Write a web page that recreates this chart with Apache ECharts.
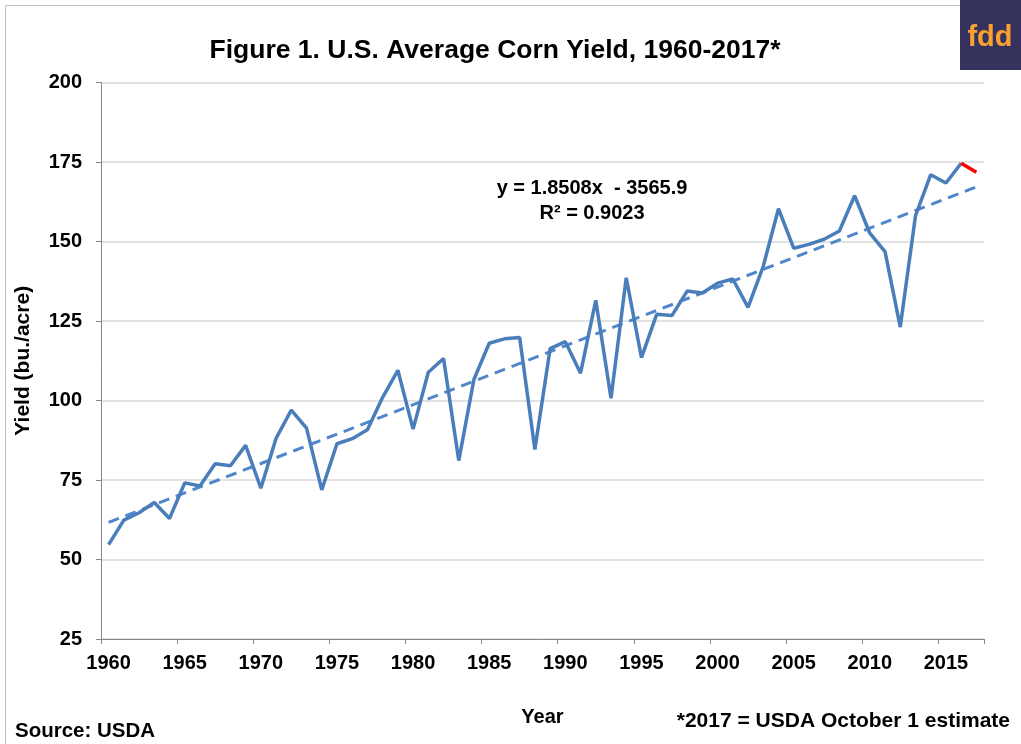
<!DOCTYPE html>
<html lang="en">
<head>
  <meta charset="UTF-8">
  <script src="https://cdn.jsdelivr.net/npm/echarts@6/dist/echarts.min.js"></script>
  <style>
    body { margin: 0; background: #fff; }
    #main { width: 1021px; height: 744px; }
  </style>
  <title>Corn Yield</title>
</head>
<body>
  <div id="main"></div>
  <script>
    // years and USDA average corn yield (bu./acre), 2017 = October estimate
    const years = [];
    for (let y = 1960; y <= 2017; y++) years.push(String(y));
    const yields = [
      54.7, 62.4, 64.7, 67.9, 62.9, 74.1, 73.1, 80.1, 79.5, 85.9,
      72.4, 88.1, 97.0, 91.3, 71.9, 86.4, 88.0, 90.8, 101.0, 109.5,
      91.0, 108.9, 113.2, 81.1, 106.7, 118.0, 119.4, 119.8, 84.6, 116.3,
      118.5, 108.6, 131.5, 100.7, 138.6, 113.5, 127.1, 126.7, 134.4, 133.8,
      136.9, 138.2, 129.3, 142.2, 160.3, 147.9, 149.1, 150.7, 153.3, 164.4,
      152.6, 146.8, 123.1, 158.1, 171.0, 168.4, 174.6
    ];
    const estimate2017 = 171.8;
    // linear trend shown on the chart
    const slope = 1.8508;
    const intercept = -3565.9;

    const last = years.length - 1;
    const actual = yields.concat([null]);
    const estimate = years.map((y, i) => i === last - 1 ? yields[last - 1] : (i === last ? estimate2017 : null));
    const trend = years.map((y, i) => (i === 0 || i === last) ? +(slope * Number(y) + intercept).toFixed(2) : null);

    const font = 'Liberation Sans, Arial, sans-serif';
    var myChart = echarts.init(document.getElementById('main'));
    var option = {
      animation: false,
      backgroundColor: '#fff',
      title: {
        text: 'Figure 1. U.S. Average Corn Yield, 1960-2017*',
        left: 490,
        textAlign: 'center',
        top: 32,
        textStyle: { fontFamily: font, fontWeight: 'bold', fontSize: 26.5, color: '#000' }
      },
      grid: { left: 101, right: 37, top: 82.5, bottom: 105 },
      xAxis: {
        type: 'category',
        data: years,
        boundaryGap: true,
        name: 'Year',
        nameLocation: 'middle',
        nameGap: 68,
        nameTextStyle: { fontFamily: font, fontWeight: 'bold', fontSize: 20, color: '#000' },
        axisLine: { lineStyle: { color: '#868686', width: 1 } },
        axisTick: { show: true, interval: 4, length: 5, lineStyle: { color: '#868686' } },
        axisLabel: { interval: 4, margin: 14, fontFamily: font, fontWeight: 'bold', fontSize: 20, color: '#000' }
      },
      yAxis: {
        type: 'value',
        min: 25,
        max: 200,
        interval: 25,
        name: 'Yield (bu./acre)',
        nameLocation: 'middle',
        nameGap: 67,
        nameTextStyle: { fontFamily: font, fontWeight: 'bold', fontSize: 21, color: '#000' },
        axisLine: { show: true, lineStyle: { color: '#868686', width: 1 } },
        axisTick: { show: true, length: 5, lineStyle: { color: '#868686' } },
        axisLabel: { margin: 19, fontFamily: font, fontWeight: 'bold', fontSize: 20, color: '#000' },
        splitLine: { lineStyle: { color: '#d9d9d9', width: 1.5 } }
      },
      series: [
        {
          name: 'Trend',
          type: 'line',
          data: trend,
          connectNulls: true,
          symbol: 'none',
          lineStyle: { color: '#4f86cc', width: 3, type: [11, 7] },
          z: 1
        },
        {
          name: 'Yield',
          type: 'line',
          data: actual,
          symbol: 'none',
          lineStyle: { color: '#4a7ebb', width: 3.5 },
          z: 2
        },
        {
          name: '2017 estimate',
          type: 'line',
          data: estimate,
          symbol: 'none',
          lineStyle: { color: '#ff0000', width: 3.5 },
          z: 3
        }
      ],
      graphic: [
        { type: 'polyline', shape: { points: [[5.5, 744], [5.5, 5.5], [960, 5.5]] }, style: { stroke: '#bfbfbf', lineWidth: 1, fill: null } },
        { type: 'rect', shape: { x: 960, y: 0, width: 61, height: 70 }, style: { fill: '#36325e' } },
        { type: 'text', x: 990, y: 38, style: { text: 'fdd', fill: '#f9a12e', font: 'bold 29px ' + font, align: 'center', verticalAlign: 'middle' } },
        { type: 'text', x: 592, y: 188, style: { text: 'y = 1.8508x  - 3565.9', fill: '#000', font: 'bold 20px ' + font, align: 'center', verticalAlign: 'middle' } },
        { type: 'text', x: 592, y: 213, style: { text: 'R\u00b2 = 0.9023', fill: '#000', font: 'bold 20px ' + font, align: 'center', verticalAlign: 'middle' } },
        { type: 'text', x: 15, y: 731, style: { text: 'Source: USDA', fill: '#000', font: 'bold 20.5px ' + font, align: 'left', verticalAlign: 'middle' } },
        { type: 'text', x: 1010, y: 721, style: { text: '*2017 = USDA October 1 estimate', fill: '#000', font: 'bold 21px ' + font, align: 'right', verticalAlign: 'middle' } }
      ]
    };
    option && myChart.setOption(option);
  </script>
</body>
</html>
